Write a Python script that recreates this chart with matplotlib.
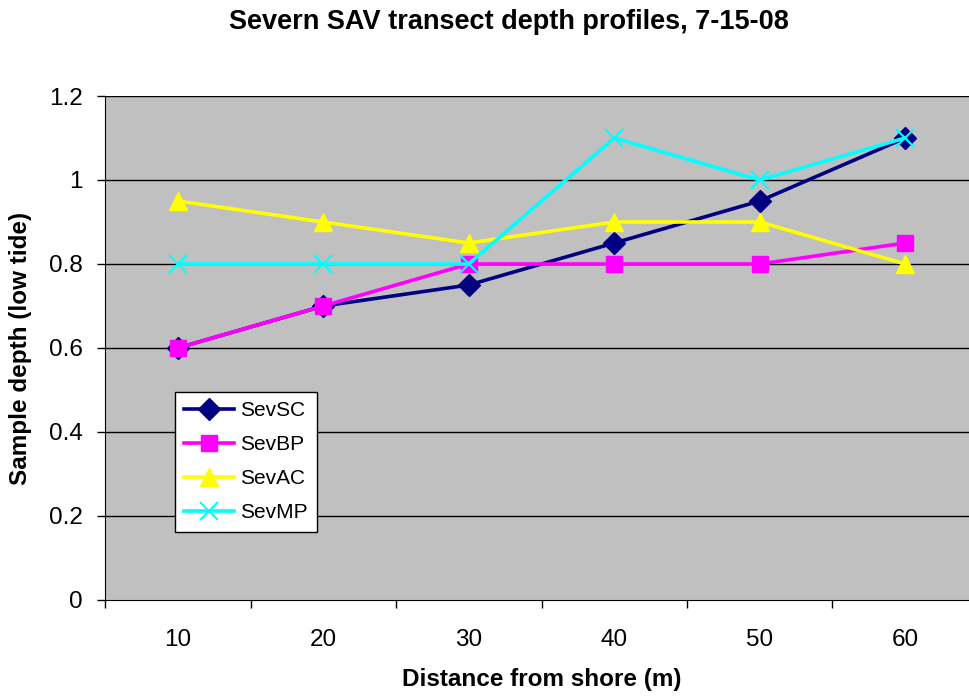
import matplotlib
matplotlib.use("Agg")
import matplotlib.pyplot as plt

categories = ["10", "20", "30", "40", "50", "60"]
sev_sc = [0.6, 0.7, 0.75, 0.85, 0.95, 1.1]
sev_bp = [0.6, 0.7, 0.8, 0.8, 0.8, 0.85]
sev_ac = [0.95, 0.9, 0.85, 0.9, 0.9, 0.8]
sev_mp = [0.8, 0.8, 0.8, 1.1, 1.0, 1.1]
y_ticks = [0, 0.2, 0.4, 0.6, 0.8, 1.0, 1.2]
y_labels = ["0", "0.2", "0.4", "0.6", "0.8", "1", "1.2"]

plt.rcParams['font.family'] = ['Liberation Sans', 'DejaVu Sans']

fig = plt.figure(figsize=(9.69, 6.98), dpi=100)
ax = fig.add_axes([105/969, 1 - 600/698, 873/969, 504/698])
ax.set_facecolor('#c0c0c0')

x = list(range(len(categories)))
ax.set_xlim(-0.5, len(categories) - 0.5)
ax.set_ylim(0, 1.2)

for yv in y_ticks[1:]:
    ax.axhline(yv, color='black', lw=1.0, zorder=1)

ax.plot(x, sev_sc, color='#000080', lw=2.6, marker='D', ms=11, label='SevSC', zorder=3)
ax.plot(x, sev_bp, color='#ff00ff', lw=2.6, marker='s', ms=11, label='SevBP', zorder=3)
ax.plot(x, sev_ac, color='#ffff00', lw=2.6, marker='^', ms=13, label='SevAC', zorder=3)
ax.plot(x, sev_mp, color='#00ffff', lw=2.6, marker='x', ms=13, mew=1.5, label='SevMP', zorder=4)

ax.set_yticks(y_ticks)
ax.set_yticklabels(y_labels, fontsize=17.5)
ax.set_xticks([i - 0.5 for i in range(len(categories) + 1)])
ax.set_xticklabels([''] * (len(categories) + 1))
ax.set_xticks(x, minor=True)
ax.set_xticklabels(categories, minor=True, fontsize=17.5)
ax.tick_params(axis='x', which='minor', length=0, pad=21)
ax.tick_params(axis='x', which='major', length=6, direction='out', width=1)
ax.tick_params(axis='y', length=6, direction='out', width=1, pad=10)

for s in ['top', 'right']:
    ax.spines[s].set_visible(False)
ax.spines['left'].set_color('black')
ax.spines['bottom'].set_color('black')

ax.set_xlabel('Distance from shore (m)', fontsize=17.5, fontweight='bold', labelpad=12)
ax.set_ylabel('Sample depth (low tide)', fontsize=17.5, fontweight='bold', labelpad=12)
fig.text(0.525, 1 - 22/698, 'Severn SAV transect depth profiles, 7-15-08',
         ha='center', va='center', fontsize=19.5, fontweight='bold')

leg = ax.legend(loc='upper left', bbox_to_anchor=(70/873, (600-392)/504), fontsize=15,
                frameon=True, fancybox=False, framealpha=1, edgecolor='black',
                handlelength=2.4, borderpad=0.45, labelspacing=0.72, handletextpad=0.25,
                borderaxespad=0)
leg.get_frame().set_linewidth(1.0)

fig.savefig('out.png', dpi=100)
